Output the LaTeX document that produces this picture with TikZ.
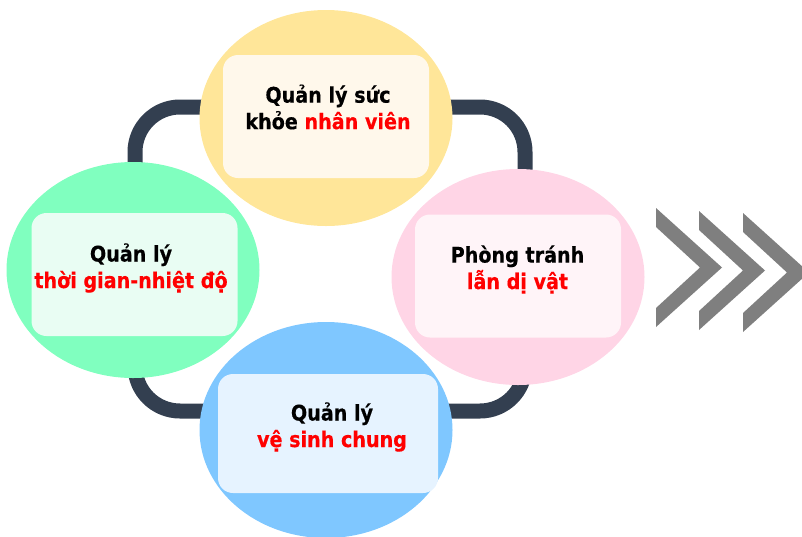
\documentclass[tikz,border=0pt]{standalone}
\usepackage{fontspec}
\newfontfamily\lbl{DejaVu Sans}[FakeStretch=0.89,FakeBold=0.4]
\usetikzlibrary{shapes.geometric}
\definecolor{loopc}{HTML}{333F50}
\definecolor{chev}{HTML}{7F7F7F}
\definecolor{yelO}{HTML}{FFE699}
\definecolor{yelI}{HTML}{FFF8EB}
\definecolor{grnO}{HTML}{80FFBF}
\definecolor{grnI}{HTML}{E9FDF3}
\definecolor{pnkO}{HTML}{FFD5E6}
\definecolor{pnkI}{HTML}{FFF4F8}
\definecolor{bluO}{HTML}{7FC7FF}
\definecolor{bluI}{HTML}{E6F3FF}
\definecolor{redt}{HTML}{FF0000}
\tikzset{
  blob/.style={ellipse, minimum width=253pt, minimum height=216pt, inner sep=0pt, draw=none},
  card/.style={rectangle, rounded corners=15pt, minimum width=206pt, minimum height=123pt, inner sep=0pt, draw=none},
  lbltext/.style={align=center, inner sep=0pt, font=\lbl\bfseries\fontsize{21.5pt}{26.5pt}\selectfont, text=black},
  ring/.style={draw=loopc, line width=15pt, rounded corners=45pt},
  chevshape/.style={fill=chev}
}
\newcommand{\hl}[1]{\textcolor{redt}{#1}}
\begin{document}
\begin{tikzpicture}[x=1pt,y=-1pt]
\useasboundingbox (0,0) rectangle (802,536);
% ring behind
\coordinate (rtl) at (135,107);
\coordinate (rbr) at (525,411);
\draw[ring] (rtl) rectangle (rbr);
% circles
\node[blob, fill=yelO] (cT) at (326,118) {};
\node[blob, fill=grnO] (cL) at (133,270) {};
\node[blob, fill=pnkO] (cR) at (518,277) {};
\node[blob, fill=bluO] (cB) at (326,430) {};
% cards
\node[card, fill=yelI] (kT) at (326,116.5) {};
\node[card, fill=grnI] (kL) at (134.5,274.5) {};
\node[card, fill=pnkI] (kR) at (518,276) {};
\node[card, fill=bluI, minimum width=220pt, minimum height=119pt] (kB) at (328,433.5) {};
% texts
\node[lbltext] (tT) at (328,107) {Quản lý sức\\khỏe \hl{nhân viên}};
\node[lbltext] (tL) at (131,268) {Quản lý\\\hl{thời gian-nhiệt độ}};
\node[lbltext] (tR) at (517.5,269.5) {Phòng tránh\\\hl{lẫn dị vật}};
\node[lbltext] (tB) at (332,427) {Quản lý\\\hl{vệ sinh chung}};
% chevrons
\foreach \cx/\cy in {656/208, 699/211, 743/213}{
  \fill[chevshape] (\cx,\cy) -- ++(66,59.5) -- ++(-66,59.5) -- ++(0,-19) -- ++(44,-40.5) -- ++(-44,-40.5) -- cycle;
}
\end{tikzpicture}
\end{document}
